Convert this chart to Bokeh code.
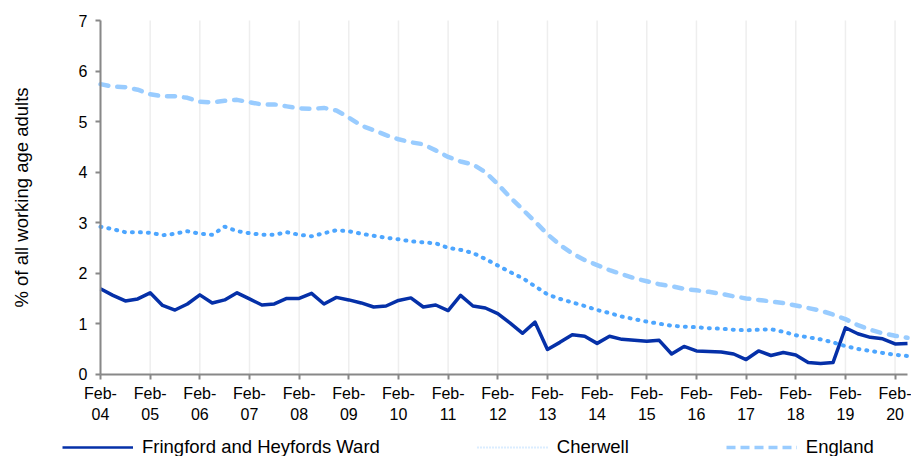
from bokeh.plotting import figure
from bokeh.models import (FixedTicker, Range1d, Legend, LegendItem, ColumnDataSource,
                          LinearAxis)
from bokeh.embed import file_html
from bokeh.resources import INLINE

# Quarterly data, Feb-04 .. May-20
fringford = [1.69, 1.56, 1.45, 1.49, 1.61, 1.36, 1.27, 1.39, 1.57, 1.41, 1.47, 1.61,
             1.49, 1.37, 1.39, 1.50, 1.50, 1.60, 1.39, 1.52, 1.47, 1.41, 1.33, 1.35,
             1.46, 1.51, 1.33, 1.37, 1.26, 1.56, 1.35, 1.31, 1.20, 1.01, 0.81, 1.03,
             0.49, 0.63, 0.78, 0.75, 0.61, 0.75, 0.69, 0.67, 0.65, 0.67, 0.40, 0.55,
             0.46, 0.45, 0.44, 0.40, 0.29, 0.46, 0.37, 0.43, 0.38, 0.23, 0.21, 0.23,
             0.92, 0.80, 0.73, 0.70, 0.60, 0.61]
cherwell = [2.92, 2.87, 2.81, 2.81, 2.80, 2.75, 2.78, 2.83, 2.78, 2.76, 2.92, 2.83,
            2.79, 2.76, 2.76, 2.81, 2.76, 2.73, 2.79, 2.85, 2.83, 2.78, 2.74, 2.70,
            2.67, 2.63, 2.61, 2.59, 2.50, 2.46, 2.40, 2.28, 2.15, 2.02, 1.90, 1.74,
            1.58, 1.49, 1.42, 1.35, 1.27, 1.21, 1.14, 1.09, 1.04, 1.00, 0.96, 0.94,
            0.93, 0.91, 0.90, 0.88, 0.87, 0.88, 0.89, 0.84, 0.77, 0.73, 0.69, 0.63,
            0.555, 0.50, 0.46, 0.42, 0.385, 0.36]
england = [5.74, 5.69, 5.68, 5.63, 5.54, 5.50, 5.50, 5.47, 5.39, 5.38, 5.41, 5.43,
           5.38, 5.34, 5.34, 5.30, 5.26, 5.25, 5.27, 5.22, 5.08, 4.92, 4.83, 4.73,
           4.65, 4.59, 4.55, 4.43, 4.30, 4.21, 4.15, 4.00, 3.76, 3.50, 3.26, 3.02,
           2.77, 2.56, 2.39, 2.26, 2.16, 2.06, 1.98, 1.90, 1.84, 1.78, 1.74, 1.69,
           1.66, 1.63, 1.59, 1.54, 1.50, 1.47, 1.44, 1.41, 1.36, 1.31, 1.26, 1.18,
           1.09, 0.97, 0.88, 0.81, 0.76, 0.72]
tick_labels = ["Feb-\n04", "Feb-\n05", "Feb-\n06", "Feb-\n07", "Feb-\n08", "Feb-\n09",
               "Feb-\n10", "Feb-\n11", "Feb-\n12", "Feb-\n13", "Feb-\n14", "Feb-\n15",
               "Feb-\n16", "Feb-\n17", "Feb-\n18", "Feb-\n19", "Feb-\n20"]
y_ticks = [0, 1, 2, 3, 4, 5, 6, 7]
series_names = ["Fringford and Heyfords Ward", "Cherwell", "England"]

quarters = list(range(len(fringford)))
tick_pos = [4 * i for i in range(len(tick_labels))]
n_last = len(quarters) - 1
y_top = y_ticks[-1]

src = ColumnDataSource(dict(q=quarters, fr=fringford, ch=cherwell, en=england))

FONT = "Liberation Sans"
W, H = 911, 456
# frame covers the whole canvas; plot area: x 100..907 px, y 20..373.7 px
px_per_q = (907 - 100) / n_last
px_per_u = (373.7 - 20) / y_top
x_range = Range1d(-100 / px_per_q, n_last + (W - 907) / px_per_q)
y_range = Range1d(-(H - 373.7) / px_per_u, y_top + 20 / px_per_u)

p = figure(width=W, height=H, output_backend="svg", toolbar_location=None,
           x_range=x_range, y_range=y_range,
           x_axis_location=None, y_axis_location=None,
           min_border_left=0, min_border_right=0, min_border_top=0, min_border_bottom=0)
p.outline_line_color = None
p.background_fill_color = "white"
p.border_fill_color = "white"
p.grid.visible = False

# vertical gridlines at each Feb
p.segment(x0=tick_pos, y0=[0] * len(tick_pos), x1=tick_pos, y1=[y_top] * len(tick_pos),
          line_color="#eeeeee", line_width=1.5)

xax = LinearAxis(fixed_location=0, bounds=(0, n_last))
yax = LinearAxis(fixed_location=0, bounds=(0, y_top))
p.add_layout(xax, "below")
p.add_layout(yax, "left")
xax.ticker = FixedTicker(ticks=tick_pos)
yax.ticker = FixedTicker(ticks=y_ticks)
xax.major_label_overrides = {t: l for t, l in zip(tick_pos, tick_labels)}

for ax in (xax, yax):
    ax.axis_line_color = "#888888"
    ax.axis_line_width = 2
    ax.major_tick_line_color = "#888888"
    ax.major_tick_line_width = 2
    ax.major_tick_out = 5
    ax.major_tick_in = 0
    ax.minor_tick_line_color = None
    ax.major_label_text_font = FONT
    ax.major_label_text_font_size = "16px"
    ax.major_label_text_color = "black"

xax.major_label_standoff = 6
yax.major_label_standoff = 8
yax.axis_label = "% of all working age adults"
yax.axis_label_text_font = FONT
yax.axis_label_text_font_size = "18.5px"
yax.axis_label_text_font_style = "normal"
yax.axis_label_text_color = "black"
yax.axis_label_standoff = 44

r_fr = p.line("q", "fr", source=src, line_color="#0530a8", line_width=3.5,
              line_join="round")
r_ch = p.line("q", "ch", source=src, line_color="#4da6ff", line_width=4,
              line_dash="1 7", line_cap="round")
r_en = p.line("q", "en", source=src, line_color="#99ccff", line_width=4.5,
              line_dash="8 9", line_cap="round")

# legend samples (styled like the reference key; a NaN point draws nothing in the plot)
key_src = ColumnDataSource(dict(q=[float("nan")], v=[float("nan")]))
k_fr = p.line("q", "v", source=key_src, line_color="#0530a8", line_width=2.5)
k_ch = p.line("q", "v", source=key_src, line_color="#b8dcff", line_width=2,
              line_dash="1 2")
k_en = p.line("q", "v", source=key_src, line_color="#99ccff", line_width=3.5,
              line_dash="9 5")

legend = Legend(items=[LegendItem(label=series_names[0], renderers=[k_fr]),
                       LegendItem(label=series_names[1], renderers=[k_ch]),
                       LegendItem(label=series_names[2], renderers=[k_en])],
                orientation="horizontal", location=(62, -2),
                glyph_width=71, glyph_height=18, label_height=18,
                label_standoff=9, spacing=97, padding=0, margin=0,
                border_line_color=None, background_fill_alpha=0,
                label_text_font=FONT, label_text_font_size="18.5px",
                label_text_color="black")
p.add_layout(legend, "center")

open("out.html", "w").write(file_html(p, INLINE))
